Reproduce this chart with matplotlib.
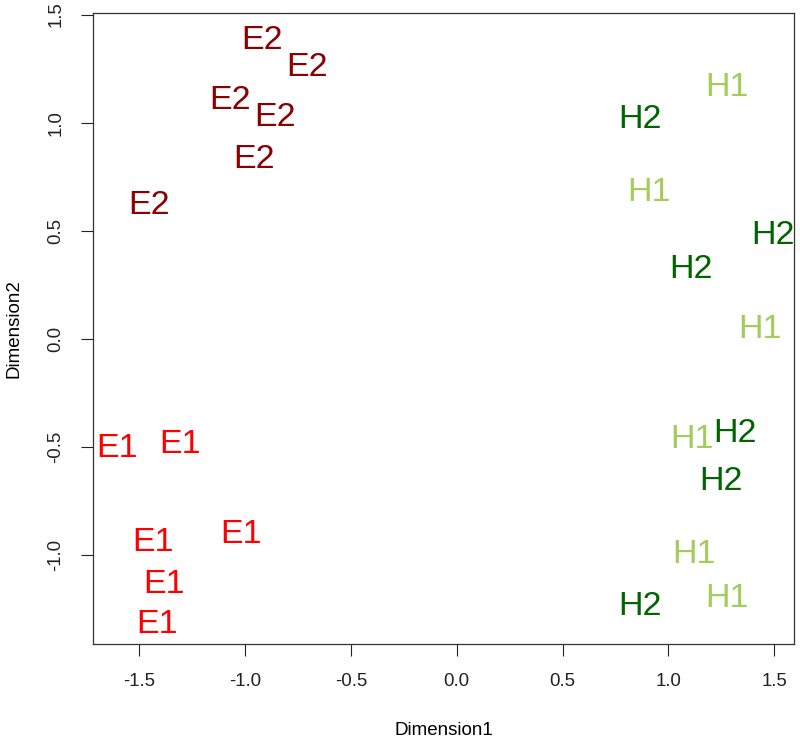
import matplotlib
matplotlib.use("Agg")
import matplotlib.pyplot as plt

plt.rcParams['font.family'] = ['Liberation Sans', 'DejaVu Sans']

# MDS coordinates per group
e2_x = [-0.921, -0.709, -1.073, -0.858, -0.959, -1.455]
e2_y = [1.398, 1.271, 1.117, 1.038, 0.846, 0.634]
e1_x = [-1.603, -1.307, -1.020, -1.437, -1.382, -1.417]
e1_y = [-0.493, -0.474, -0.890, -0.928, -1.121, -1.306]
h1_x = [1.276, 0.909, 1.433, 1.113, 1.121, 1.276]
h1_y = [1.180, 0.692, 0.060, -0.449, -0.981, -1.183]
h2_x = [0.866, 1.493, 1.108, 1.315, 1.250, 0.866]
h2_y = [1.030, 0.493, 0.336, -0.422, -0.643, -1.222]

groups = [
    ("E2", e2_x, e2_y, "#8B0000"),
    ("E1", e1_x, e1_y, "#FF0000"),
    ("H1", h1_x, h1_y, "#A2CD5A"),
    ("H2", h2_x, h2_y, "#006400"),
]

xticks = [-1.5, -1.0, -0.5, 0.0, 0.5, 1.0, 1.5]
yticks = [-1.0, -0.5, 0.0, 0.5, 1.0, 1.5]

fig = plt.figure(figsize=(8, 7.38), dpi=100)
ax = fig.add_axes([0.11625, 0.12737, 0.87625, 0.85501])

for label, xs, ys, col in groups:
    for x, y in zip(xs, ys):
        ax.text(x, y, label, color=col, fontsize=24.5, ha='center',
                va='center_baseline')

ax.set_xlim(-1.7184, 1.5938)
ax.set_ylim(-1.4117, 1.5075)
ax.set_xticks(xticks)
ax.set_xticklabels([f"{t:.1f}" for t in xticks])
ax.set_yticks(yticks)
ax.set_yticklabels([f"{t:.1f}" for t in yticks], rotation=90, va='center')
ax.tick_params(axis='both', direction='out', length=8.6, width=0.8,
               labelsize=13.4, colors='#222222')
ax.tick_params(axis='x', pad=12.5)
ax.tick_params(axis='y', pad=12.0)
for s in ax.spines.values():
    s.set_linewidth(0.9)
    s.set_color('#333333')

ax.set_xlabel("Dimension1", fontsize=13.5, labelpad=23)
ax.set_ylabel("Dimension2", fontsize=13.5, labelpad=18)

fig.savefig("out.png", dpi=100)
